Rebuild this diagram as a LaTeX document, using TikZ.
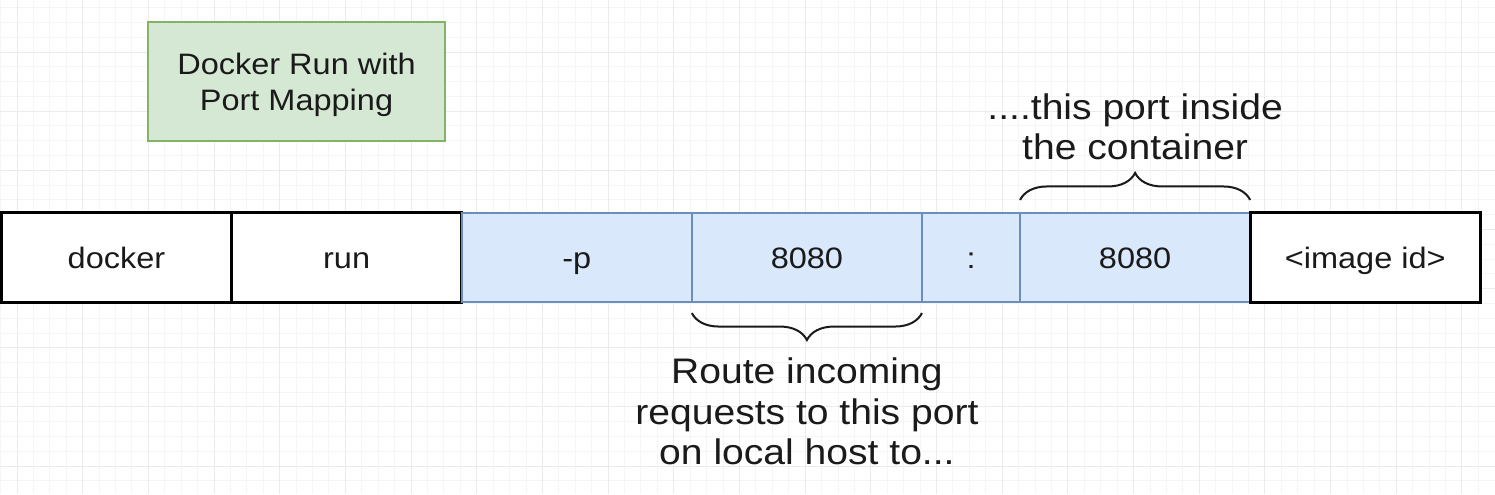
\documentclass[tikz,border=0pt]{standalone}
\usepackage{fontspec}
\setmainfont{Liberation Sans}[FakeStretch=1.1]
\usetikzlibrary{positioning,decorations.pathreplacing}
\definecolor{portfill}{HTML}{DAE8FC}
\definecolor{portline}{HTML}{6C8EBF}
\definecolor{titlefill}{HTML}{D5E8D4}
\definecolor{titleline}{HTML}{82B366}
\definecolor{gridminor}{HTML}{F5F5F5}
\definecolor{gridmajor}{HTML}{EBEBEB}
\definecolor{ink}{HTML}{1A1A1A}
\tikzset{
  cell/.style={rectangle,draw=black,line width=0.03cm,fill=white,text=ink,
    minimum width=2.3cm,minimum height=0.89cm,inner sep=0pt,outer sep=0pt,
    text height=0.76em,text depth=0.12em,
    font=\fontsize{8.4}{10.2}\selectfont},
  portcell/.style={cell,draw=portline,fill=portfill,line width=0.02cm},
  titlebox/.style={rectangle,draw=titleline,fill=titlefill,line width=0.02cm,text=ink,
    minimum width=2.97cm,minimum height=1.19cm,inner sep=0pt,outer sep=0pt,
    align=center,text depth=0pt,font=\fontsize{8.4}{10.2}\selectfont},
  note/.style={align=center,inner sep=0pt,text=ink,font=\fontsize{10.1}{11.5}\selectfont},
  curly/.style={decorate,decoration={brace,amplitude=0.27cm},line width=0.02cm,draw=ink},
}

\begin{document}
\begin{tikzpicture}[x=0.01cm,y=-0.01cm]
  \useasboundingbox (0,0) rectangle (1495,494);
  % background grid
  \foreach \i in {-1,...,89}
    \draw[gridminor,line width=0.01cm] ({17+16.42*\i},0) -- ({17+16.42*\i},494);
  \foreach \j in {-3,...,29}
    \draw[gridminor,line width=0.01cm] (0,{52+14.79*\j}) -- (1495,{52+14.79*\j});
  \foreach \i in {0,...,22}
    \draw[gridmajor,line width=0.01cm] ({17+65.68*\i},0) -- ({17+65.68*\i},494);
  \foreach \j in {0,...,7}
    \draw[gridmajor,line width=0.01cm] (0,{52+59.16*\j}) -- (1495,{52+59.16*\j});

  \node[titlebox] (title) at (296.5,81.5) {Docker Run with\\Port Mapping};

  % the command, cell by cell
  \node[cell] (docker) at (116.5,257.5) {docker};
  \node[cell] (run) [right=0pt of docker] {run};
  \node[portcell] (flag) [right=0pt of run] {-p};
  \node[portcell] (hostport) [right=0pt of flag] {8080};
  \node[portcell,minimum width=0.98cm] (colon) [right=0pt of hostport] {:};
  \node[portcell] (ctrport) [right=0pt of colon] {8080};
  \node[cell] (imageid) [right=0pt of ctrport] {<image id>};

  \draw[curly] ([yshift=0.13cm]ctrport.north west) -- ([yshift=0.13cm]ctrport.north east);
  \draw[curly] ([yshift=-0.11cm]hostport.south east) -- ([yshift=-0.11cm]hostport.south west);

  \node[note] (inside) at ([yshift=0.86cm]ctrport.north) {....this port inside\\the container};
  \node[note] (route) at ([yshift=-1.095cm]hostport.south) {Route incoming\\requests to this port\\on local host to...};
\end{tikzpicture}
\end{document}
